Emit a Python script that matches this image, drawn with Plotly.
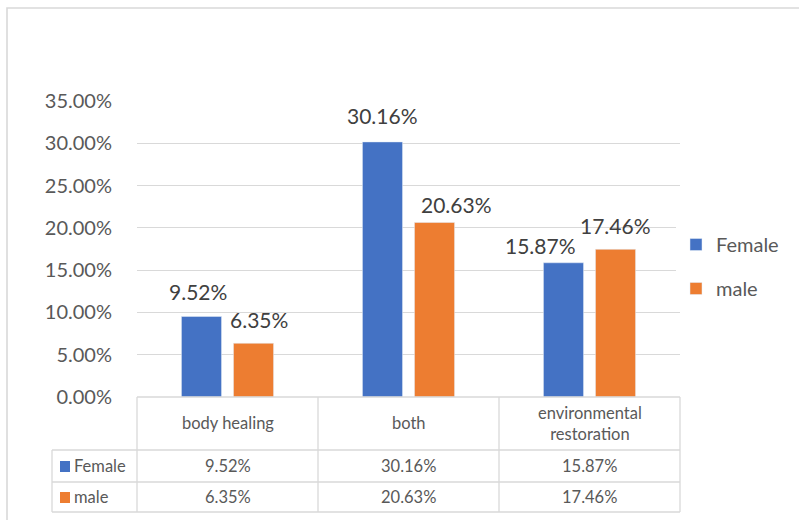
import plotly.graph_objects as go

categories = ["body healing", "both", "environmental restoration"]
header_labels = ["body healing", "both", "environmental<br>restoration"]
series_names = ["Female", "male"]
female = [0.0952, 0.3016, 0.1587]
male = [0.0635, 0.2063, 0.1746]
colors = ["#4472C4", "#ED7D31"]
y_ticks = [0, 0.05, 0.10, 0.15, 0.20, 0.25, 0.30, 0.35]

# label placement (pixels): horizontal nudge from bar centre, vertical gap above bar top
label_dx = [[-4, 0, -23.5], [5, 21.5, 0]]
label_gap = [[24.5, 26, 17], [24, 18, 24]]

W, H = 799, 520
L, R, T, B = 137, 680, 101, 397
FONT = "Lato"
TXT = "#595959"
SLOT = 26


def px_x(x):
    return (x - L) / (R - L)


def px_y(y):
    return (B - y) / (B - T)


fig = go.Figure()
values = [female, male]
for i, (name, vals) in enumerate(zip(series_names, values)):
    fig.add_trace(go.Bar(
        x=categories, y=vals, name=name, marker_color=colors[i],
        legendgroup=name, hoverinfo="skip",
    ))
    for j, (c, v) in enumerate(zip(categories, vals)):
        fig.add_annotation(
            x=c, y=v, xref="x", yref="y", text=f"{v*100:.2f}%",
            showarrow=False, yanchor="middle", yshift=label_gap[i][j],
            xshift=(-SLOT if i == 0 else SLOT) + label_dx[i][j],
            font=dict(family=FONT, size=21, color="#404040"),
        )

shapes = []
line = dict(color="#d9d9d9", width=1.3)
# outer border
shapes.append(dict(type="rect", xref="paper", yref="paper",
                   x0=px_x(7), x1=px_x(810), y0=px_y(530), y1=px_y(8),
                   line=dict(color="#d9d9d9", width=1.6)))
# table lines
row_y = [397, 450, 482, 512]
col_x = [137, 318, 499, 680]
shapes.append(dict(type="line", xref="paper", yref="paper", x0=px_x(137), x1=px_x(680),
                   y0=px_y(397), y1=px_y(397), line=line))
for yy in row_y[1:]:
    shapes.append(dict(type="line", xref="paper", yref="paper", x0=px_x(52), x1=px_x(680),
                       y0=px_y(yy), y1=px_y(yy), line=line))
for xx in col_x:
    shapes.append(dict(type="line", xref="paper", yref="paper", x0=px_x(xx), x1=px_x(xx),
                       y0=px_y(397), y1=px_y(512), line=line))
shapes.append(dict(type="line", xref="paper", yref="paper", x0=px_x(52), x1=px_x(52),
                   y0=px_y(450), y1=px_y(512), line=line))

# header labels
for c, lab in zip(categories, header_labels):
    fig.add_annotation(x=c, xref="x", y=px_y(423), yref="paper", text=lab,
                       yanchor="middle", showarrow=False,
                       font=dict(family=FONT, size=16.5, color=TXT))
# rows
row_centers = [466, 497]
for i, (name, vals) in enumerate(zip(series_names, values)):
    for c, v in zip(categories, vals):
        fig.add_annotation(x=c, xref="x", y=px_y(row_centers[i]), yref="paper",
                           text=f"{v*100:.2f}%", showarrow=False, yanchor="middle",
                           font=dict(family=FONT, size=16.5, color=TXT))
    shapes.append(dict(type="rect", xref="paper", yref="paper",
                       x0=px_x(60), x1=px_x(70), y0=px_y(row_centers[i] + 6),
                       y1=px_y(row_centers[i] - 5), fillcolor=colors[i], line=dict(width=0)))
    fig.add_annotation(x=px_x(72), xref="paper", y=px_y(row_centers[i]), yref="paper",
                       text=name, showarrow=False, xanchor="left", yanchor="middle",
                       font=dict(family=FONT, size=16.5, color=TXT))

fig.update_layout(
    width=W, height=H,
    margin=dict(l=L, r=W - R, t=T, b=H - B, autoexpand=False),
    paper_bgcolor="white", plot_bgcolor="white",
    barmode="group", bargap=0.425, bargroupgap=0.23,
    shapes=shapes,
    legend=dict(x=px_x(676), y=px_y(225), xanchor="left", yanchor="top",
                font=dict(family=FONT, size=20, color=TXT),
                tracegroupgap=15, itemwidth=30),
    font=dict(family=FONT, color=TXT),
)
fig.update_xaxes(showticklabels=False, showgrid=False, showline=False, zeroline=False,
                 range=[-0.5, 2.5])
fig.update_yaxes(range=[0, 0.35], tickvals=y_ticks, tickformat=".2%",
                 showgrid=True, gridcolor="#d9d9d9", gridwidth=1.3, zeroline=False,
                 showline=False, ticklabelstandoff=24,
                 tickfont=dict(family=FONT, size=20, color=TXT))

fig.write_html("out.html")
